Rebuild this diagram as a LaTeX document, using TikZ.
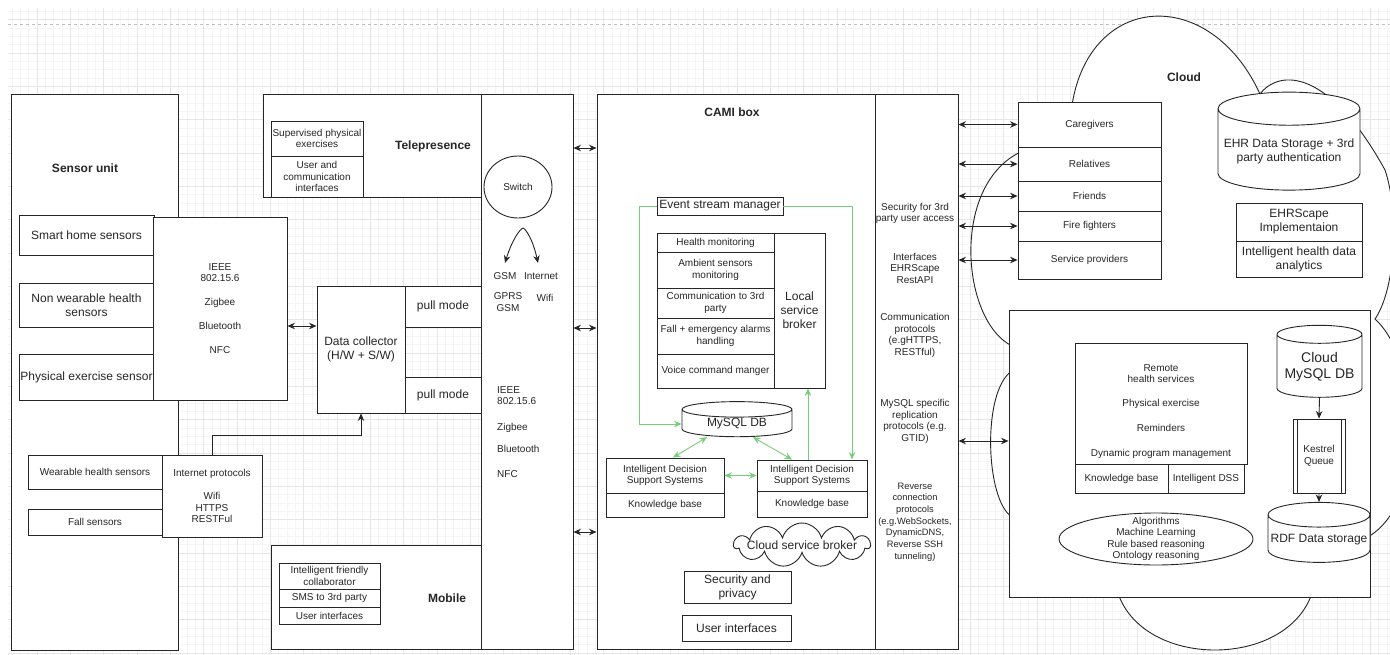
\documentclass[tikz,border=0pt]{standalone}
\usepackage{fontspec}
\setmainfont{Liberation Sans}
\usetikzlibrary{arrows.meta, shapes.geometric, shapes.symbols}
\definecolor{gridminor}{RGB}{245,245,245}
\definecolor{gridmajor}{RGB}{230,230,230}
\definecolor{flowgreen}{RGB}{120,205,120}
\newcommand\txtsmall{\fontsize{10}{11.5}\selectfont}
\newcommand\txtbig{\fontsize{12}{14}\selectfont}
\newcommand\txttitle{\fontsize{12}{14}\selectfont\bfseries}
\tikzset{
    wh/.style 2 args={minimum width=#1pt, minimum height=#2pt},
    box/.style={draw=black!85, fill=white, line width=0.9pt, inner sep=1pt},
    bigtext/.style={font=\txtbig},
    title/.style={font=\txttitle},
    db/.style={box, cylinder, shape border rotate=90, aspect=0.25},
    proc/.style={box, path picture={
        \draw[line width=0.9pt] ([xshift=4pt]path picture bounding box.north west) -- ([xshift=4pt]path picture bounding box.south west);
        \draw[line width=0.9pt] ([xshift=-4pt]path picture bounding box.north east) -- ([xshift=-4pt]path picture bounding box.south east);}},
    arr/.style={-{Stealth[length=7.5pt,width=6.5pt]}, draw=black!85, line width=0.9pt},
    dbl/.style={{Stealth[length=7.5pt,width=6.5pt]}-{Stealth[length=7.5pt,width=6.5pt]}, draw=black!85, line width=0.9pt},
    garr/.style={-{Stealth[length=7.5pt,width=6.5pt]}, draw=flowgreen, line width=0.9pt},
    gdbl/.style={{Stealth[length=7.5pt,width=6.5pt]}-{Stealth[length=7.5pt,width=6.5pt]}, draw=flowgreen, line width=0.9pt}
}
\begin{document}
\begin{tikzpicture}[x=1pt, y=1pt,
    every node/.style={font=\txtsmall, text=black!85, align=center}
]
\useasboundingbox (0,0) rectangle (1390,-654);
\begin{scope}
\clip (8,-8) rectangle (1390,-654);
\draw[gridminor, line width=0.5pt, shift={(3.7,-19.7)}, step=8.333] (-20,-680) grid (1400,20);
\draw[gridmajor, line width=0.5pt, shift={(3.7,-19.7)}, step=33.333] (-20,-680) grid (1400,20);
\end{scope}
\draw[gray!50, dashed, line width=0.7pt] (8,-24) -- (1390,-24);

\begin{scope}
\clip (0,0) rectangle (1390,-654);
\draw[draw=black!85, fill=white, line width=0.9pt] (1072,-105) .. controls (1090,8) and (1210,15) .. (1260,-94)
    .. controls (1280,-68) and (1330,-70) .. (1385,-170) .. controls (1400,-215) and (1395,-290) .. (1375,-319)
    .. controls (1420,-360) and (1430,-500) .. (1368,-537) -- (1313,-590)
    .. controls (1290,-670) and (1140,-670) .. (1117,-590) -- (1012,-517)
    .. controls (985,-500) and (982,-390) .. (1012,-371) -- (1012,-346)
    .. controls (960,-320) and (950,-180) .. (1025,-150) -- cycle;
\end{scope}
\node[title] (cloudtitle) at (1184,-77) {Cloud};

\node[box, wh={167}{556}] (sensor) at (94.5,-372) {};
\node[title] (sensortitle) at (85,-168) {Sensor unit};
\node[box, bigtext, wh={135}{40}] (smart) at (86.5,-235) {Smart home sensors};
\node[box, bigtext, wh={135}{44}] (nonwear) at (86.5,-305) {Non wearable health\\sensors};
\node[box, bigtext, wh={135}{46}] (physex) at (86.5,-377) {Physical exercise sensor};
\node[box, wh={134}{183}] (ieee) at (220,-308.5) {IEEE\\802.15.6\\[12pt]Zigbee\\[13pt]Bluetooth\\[12pt]NFC};
\node[box, wh={134}{34}] (wear) at (95,-472) {Wearable health sensors};
\node[box, wh={134}{26}] (fall) at (95,-522) {Fall sensors};
\node[box, wh={100}{82}] (inet) at (212,-496) {Internet protocols\\[12pt]Wifi\\HTTPS\\RESTFul};

\node[box, bigtext, wh={88}{127}] (collector) at (361,-349.5) {Data collector\\(H/W + S/W)};
\node[box, bigtext, wh={76}{41}] (pull1) at (443,-306.5) {pull mode};
\node[box, bigtext, wh={76}{36}] (pull2) at (443,-395) {pull mode};

\node[box, wh={218}{103}] (telep) at (372,-145.5) {};
\node[title] (teleptitle) at (433,-146) {Telepresence};
\node[box, wh={92}{35}] (supex) at (317,-138.5) {Supervised physical\\exercises};
\node[box, wh={92}{41}] (usercomm) at (317,-176.5) {User and\\communication\\interfaces};

\node[box, wh={210}{104}] (mobile) at (376,-597) {};
\node[title] (mobiletitle) at (447,-598) {Mobile};
\node[box, wh={101}{26}] (friendly) at (329.5,-576) {Intelligent friendly\\collaborator};
\node[box, wh={101}{18}] (sms) at (329.5,-598) {SMS to 3rd party};
\node[box, wh={101}{17}] (mobui) at (329.5,-615.5) {User interfaces};

\node[box, wh={92}{555}] (switchcol) at (527,-371.5) {};
\node[box, ellipse, wh={68}{62}] (switch) at (518,-187) {Switch};
\coordinate (fork) at (523,-228);
\node (gsm) at (505,-276) {GSM};
\node (internet) at (541,-276) {Internet};
\node (gprs) at (508,-302) {GPRS\\GSM};
\node (wifi) at (545,-298) {Wifi};
\node[align=left, anchor=north west, inner sep=0pt] (swproto) at (497,-386) {IEEE\\802.15.6\\[14pt]Zigbee\\[11pt]Bluetooth\\[13pt]NFC};

\node[box, wh={278}{555}] (cami) at (736,-371.5) {};
\node[title] (camititle) at (732,-112) {CAMI box};
\node[box, bigtext, wh={126}{18}, inner sep=0.5pt] (esm) at (720,-206) {Event stream manager};
\node[box, wh={117}{19}] (health) at (715.5,-242.5) {Health monitoring};
\node[box, wh={117}{36}] (ambient) at (715.5,-270) {Ambient sensors\\monitoring};
\node[box, wh={117}{30}] (comm3) at (715.5,-303) {Communication to 3rd\\party};
\node[box, wh={117}{36}] (alarms) at (715.5,-336) {Fall + emergency alarms\\handling};
\node[box, wh={117}{34}] (voice) at (715.5,-371) {Voice command manger};
\node[box, bigtext, wh={51}{155}] (broker) at (799.5,-310.5) {Local\\service\\broker};
\node[db, bigtext, wh={110}{34}] (mysql) at (737,-424) {MySQL DB};
\node[box, wh={118}{35}] (idss1) at (665,-475.5) {Intelligent Decision\\Support Systems};
\node[box, wh={118}{24}] (kb1) at (665,-505) {Knowledge base};
\node[box, wh={110}{31}] (idss2) at (812,-475.5) {Intelligent Decision\\Support Systems};
\node[box, wh={110}{26}] (kb2) at (812,-504) {Knowledge base};
\node[box, cloud, cloud puffs=11, aspect=3, wh={136}{44}] (csb) at (802,-545) {};
\node[bigtext] (csbtext) at (802,-545) {Cloud service broker};
\node[box, bigtext, wh={107}{32}] (secpriv) at (737.5,-587) {Security and\\privacy};
\node[box, bigtext, wh={109}{26}] (camiui) at (736.5,-628) {User interfaces};

\node[box, wh={83}{555}] (proto) at (916.5,-371.5) {};
\node (secaccess) at (915,-213.5) {Security for 3rd\\party user access};
\node (ehrapi) at (915,-268) {Interfaces\\EHRScape\\RestAPI};
\node (commproto) at (915,-335.5) {Communication\\protocols\\(e.gHTTPS,\\RESTful)};
\node (replproto) at (915,-421.5) {MySQL specific\\replication\\protocols (e.g.\\GTID)};
\node[font=\fontsize{9.3}{11.7}\selectfont] (revproto) at (915,-522) {Reverse\\connection\\protocols\\(e.g.WebSockets,\\DynamicDNS,\\Reverse SSH\\tunneling)};

\node[box, wh={143}{45}] (care) at (1089.5,-124.5) {Caregivers};
\node[box, wh={143}{34}] (relatives) at (1089.5,-164) {Relatives};
\node[box, wh={143}{30}] (friends) at (1089.5,-196) {Friends};
\node[box, wh={143}{30}] (firefight) at (1089.5,-226) {Fire fighters};
\node[box, wh={143}{38}] (provider) at (1089.5,-260) {Service providers};

\node[db, bigtext, wh={142}{98}] (ehr) at (1289,-151) {EHR Data Storage + 3rd\\party authentication};
\node[box, bigtext, wh={126}{38}] (ehrscape) at (1299,-222) {EHRScape\\Implementaion};
\node[box, bigtext, wh={126}{36}] (analytics) at (1299,-259) {Intelligent health data\\analytics};

\node[box, wh={361}{287}] (bigbox) at (1189.5,-453.5) {};
\node[box, wh={172}{121}] (remote) at (1161,-403.5) {};
\node (remotetext) at (1161,-411.5) {Remote\\health services\\[12.5pt]Physical exercise\\[13.5pt]Reminders\\[13.5pt]Dynamic program management};
\node[box, wh={93}{29}] (kbcloud) at (1121.5,-478.5) {Knowledge base};
\node[box, wh={76}{29}] (dss) at (1206,-478.5) {Intelligent DSS};
\node[box, ellipse, wh={194}{52}] (algo) at (1156,-539) {};
\node (algotext) at (1156,-539) {Algorithms\\Machine Learning\\Rule based reasoning\\Ontology reasoning};
\node[db, font=\fontsize{14}{16}\selectfont, wh={85}{72}] (cmysql) at (1319.5,-367) {Cloud\\MySQL DB};
\node[proc, wh={52}{74}] (kestrel) at (1319,-456) {Kestrel\\Queue};
\node[db, bigtext, wh={102}{60}] (rdf) at (1319,-540) {RDF Data storage};

\draw[dbl] (ieee.east |- 0,-326) -- (collector.west |- 0,-326);
\draw[arr] (inet.north) |- (collector.south |- 0,-435) -- (collector.south);
\draw[arr] (fork) .. controls (520,-229) and (512,-240) .. ([yshift=6pt]gsm.north);
\draw[arr] (fork) .. controls (526,-229) and (533,-240) .. ([yshift=6pt,xshift=-3pt]internet.north);
\draw[dbl] (switchcol.east |- 0,-148) -- (cami.west |- 0,-148);
\draw[dbl] (switchcol.east |- 0,-328) -- (cami.west |- 0,-328);
\draw[dbl] (switchcol.east |- 0,-532) -- (cami.west |- 0,-532);
\draw[garr] (esm.west) -- ++(-17,0) |- (mysql.west);
\draw[garr] (esm.east) -| ([xshift=40pt]idss2.north);
\draw[gdbl] ([xshift=-30pt]mysql.south) -- ([xshift=8pt]idss1.north);
\draw[gdbl] ([xshift=16pt]mysql.south) -- ([xshift=-20pt]idss2.north);
\draw[gdbl] (idss1.east) -- (idss2.west);
\draw[garr] ([xshift=-4pt]idss2.north) -- ([xshift=-4pt]idss2.north |- broker.south);
\draw[dbl] (proto.east |- care.west) -- (care.west);
\draw[dbl] (proto.east |- relatives.west) -- (relatives.west);
\draw[dbl] (proto.east |- friends.west) -- (friends.west);
\draw[dbl] (proto.east |- firefight.west) -- (firefight.west);
\draw[dbl] (proto.east |- provider.west) -- (provider.west);
\draw[dbl] (proto.east |- 0,-441) -- (bigbox.west |- 0,-441);
\draw[arr] (cmysql.south) -- (kestrel.north);
\draw[arr] (kestrel.south) -- (rdf.north);
\end{tikzpicture}
\end{document}
